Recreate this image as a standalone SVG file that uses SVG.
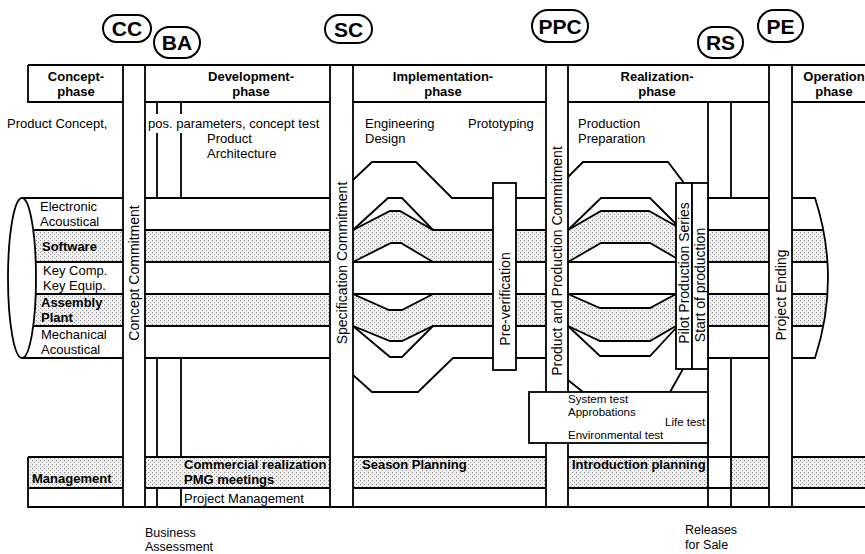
<svg xmlns="http://www.w3.org/2000/svg" width="865" height="554" viewBox="0 0 865 554">
<defs>
<pattern id="dots" width="4" height="4" patternUnits="userSpaceOnUse">
<rect width="4" height="4" fill="#efefef"/>
<rect x="0" y="0" width="1" height="1" fill="#8c8c8c"/>
<rect x="2" y="2" width="1" height="1" fill="#a8a8a8"/>
</pattern>
<style>
.ln{fill:none;stroke:#000;stroke-width:1.8}
.bx{fill:#fff;stroke:#000;stroke-width:1.8}
.sp{fill:url(#dots);stroke:none}
.t{font-family:"Liberation Sans",Arial,sans-serif;font-size:13px;fill:#000}
.s{font-size:13px}
.b{font-weight:bold;font-size:13px}
.h{font-weight:bold;font-size:13px;text-anchor:middle}
.ms{font-family:"Liberation Sans",Arial,sans-serif;font-weight:bold;font-size:21px;text-anchor:middle}
.lb{fill:#fff;stroke:#000;stroke-width:2}
.r{font-size:14px;text-anchor:middle;dominant-baseline:central}
.sm{font-size:11.5px}
.bn{font-size:12.5px}
</style>
</defs>
<rect width="865" height="554" fill="#fff"/>

<!-- stippled fills -->
<g id="fills">
<rect class="sp" x="22" y="230" width="101" height="32"/>
<rect class="sp" x="22" y="294" width="101" height="32"/>
<rect class="sp" x="145" y="230" width="185" height="32"/>
<rect class="sp" x="145" y="294" width="185" height="32"/>
<polygon class="sp" points="353,230 390,211 400,211 433,230 493,230 493,262 433,262 401,243 391,243 353,262"/>
<polygon class="sp" points="353,294 389,310 402,310 433,294 493,294 493,326 433,326 402,341 390,341 353,326"/>
<rect class="sp" x="516" y="230" width="30" height="32"/>
<rect class="sp" x="516" y="294" width="30" height="32"/>
<polygon class="sp" points="568,230 601,211 649,211 676,226 676,258 650,243 601,243 568,262"/>
<polygon class="sp" points="568,294 600,308 650,308 676,294 676,326 650,341 600,341 568,326"/>
<rect class="sp" x="708" y="230" width="61" height="32"/>
<rect class="sp" x="708" y="294" width="61" height="32"/>
<polygon class="sp" points="792,230 823.3,230 825.9,246 827.5,262 792,262"/>
<polygon class="sp" points="792,294 827.5,294 825.9,310 823.3,326 792,326"/>
<rect class="sp" x="28" y="457" width="95" height="31"/>
<rect class="sp" x="145" y="457" width="185" height="31"/>
<rect class="sp" x="353" y="457" width="193" height="31"/>
<rect class="sp" x="568" y="457" width="140" height="31"/>
<rect class="sp" x="731" y="457" width="38" height="31"/>
<rect class="sp" x="792" y="457" width="73" height="31"/>
</g>

<!-- band rows -->
<g id="rows">
<path class="ln" d="M22,198 H123 M22,230 H123 M22,262 H123 M22,294 H123 M22,326 H123 M22,358 H123"/>
<path class="ln" d="M145,198 H330 M145,230 H330 M145,262 H330 M145,294 H330 M145,326 H330 M145,358 H330"/>
<polyline class="ln" points="353,180 372,162 416,162 452,198 493,198"/>
<polyline class="ln" points="353,230 388,198 402,198 433,230"/>
<polyline class="ln" points="353,230 390,211 400,211 433,230 493,230"/>
<polyline class="ln" points="353,262 391,243 401,243 433,262"/>
<path class="ln" d="M353,262 H493 M353,294 H493"/>
<polyline class="ln" points="353,294 389,310 402,310 433,294"/>
<polyline class="ln" points="353,326 390,341 402,341 433,326 493,326"/>
<polyline class="ln" points="353,326 390,357 402,357 433,326"/>
<polyline class="ln" points="353,375 372,392 418,392 453,358 493,358"/>
<path class="ln" d="M516,198 H546 M516,230 H546 M516,262 H546 M516,294 H546 M516,326 H546 M516,358 H546"/>
<polyline class="ln" points="568,177 583,162 668,162 684,183"/>
<polyline class="ln" points="568,230 601,198 650,198 676,224"/>
<polyline class="ln" points="568,230 601,211 649,211 676,226"/>
<polyline class="ln" points="568,262 601,243 650,243 676,258"/>
<path class="ln" d="M568,262 H676 M568,294 H676"/>
<polyline class="ln" points="568,294 600,308 650,308 676,294"/>
<polyline class="ln" points="568,326 600,341 650,341 676,326"/>
<polyline class="ln" points="568,326 600,356 650,356 676,328"/>
<polyline class="ln" points="568,380 583,392 670,392 683,369"/>
<path class="ln" d="M708,198 H769 M708,230 H769 M708,262 H769 M708,294 H769 M708,326 H769 M708,358 H769"/>
<path class="ln" d="M792,198 H815 Q841,278 815,358 H792 M792,230 H823.3 M792,262 H827.5 M792,294 H827.5 M792,326 H823.3"/>
<ellipse cx="22" cy="278" rx="14" ry="80" fill="#fff" stroke="#000" stroke-width="1.8"/>
</g>

<!-- grid / connectors -->
<g id="connectors">
<path class="ln" d="M28,65 H865 M28,65 V102 H123 M145,102 H330 M353,102 H546 M568,102 H769 M792,102 H865"/>
<path class="ln" d="M123,65 V507 M145,65 V507 M330,65 V507 M353,65 V507 M546,65 V392 M568,65 V392 M546,443 V507 M568,443 V507 M769,65 V507 M792,65 V507"/>
<path class="ln" d="M157,102 V114 M157,133 V198 M181,102 V114 M181,133 V198 M157,358 V457 M181,358 V457 M157,488 V507 M181,488 V507"/>
<path class="ln" d="M708,102 V507 M731,102 V198 M731,358 V507"/>
<path class="ln" d="M28,457 V507 H865 M28,457 H123 M145,457 H330 M353,457 H546 M568,457 H769 M792,457 H865 M28,488 H123 M145,488 H330 M353,488 H546 M568,488 H769 M792,488 H865"/>
</g>

<!-- milestones -->
<g id="ms-cc"><rect class="lb" x="103" y="15" width="48" height="27" rx="13.5"/><text class="ms" x="127" y="36">CC</text></g>
<g id="ms-ba"><rect class="lb" x="154" y="27" width="46" height="31" rx="15.5"/><text class="ms" x="177" y="50">BA</text></g>
<g id="ms-sc"><rect class="lb" x="325" y="15" width="47" height="28" rx="14"/><text class="ms" x="348.5" y="36.5">SC</text></g>
<g id="ms-ppc"><rect class="lb" x="532" y="10" width="56" height="32" rx="16"/><text class="ms" x="560" y="33.5">PPC</text></g>
<g id="ms-rs"><rect class="lb" x="698" y="27" width="45" height="31" rx="15.5"/><text class="ms" x="720.5" y="50">RS</text></g>
<g id="ms-pe"><rect class="lb" x="758" y="10" width="45" height="32" rx="16"/><text class="ms" x="780.5" y="33.5">PE</text></g>

<!-- phases -->
<g id="phase-concept" class="t"><text class="h"><tspan x="76" y="81">Concept-</tspan><tspan x="76" y="96">phase</tspan></text></g>
<g id="phase-development" class="t"><text class="h"><tspan x="251" y="81">Development-</tspan><tspan x="251" y="96">phase</tspan></text></g>
<g id="phase-implementation" class="t"><text class="h"><tspan x="443" y="81">Implementation-</tspan><tspan x="443" y="96">phase</tspan></text></g>
<g id="phase-realization" class="t"><text class="h"><tspan x="657" y="81">Realization-</tspan><tspan x="657" y="96">phase</tspan></text></g>
<g id="phase-operation" class="t"><text class="h"><tspan x="834" y="81">Operation</tspan><tspan x="834" y="96">phase</tspan></text></g>

<!-- activity notes -->
<g id="notes" class="t">
<text x="7" y="128">Product Concept,</text>
<text x="148" y="128">pos. parameters, concept test</text>
<text><tspan x="207" y="143">Product</tspan><tspan x="207" y="158">Architecture</tspan></text>
<text><tspan x="365" y="128">Engineering</tspan><tspan x="365" y="143">Design</tspan></text>
<text x="468" y="128">Prototyping</text>
<text><tspan x="578" y="128">Production</tspan><tspan x="578" y="143">Preparation</tspan></text>
</g>

<!-- row labels -->
<g id="row-labels" class="t s">
<text><tspan x="40" y="211">Electronic</tspan><tspan x="40" y="226">Acoustical</tspan></text>
<text class="b" x="42" y="251">Software</text>
<text><tspan x="43" y="275">Key Comp.</tspan><tspan x="43" y="290">Key Equip.</tspan></text>
<text class="b"><tspan x="41" y="307">Assembly</tspan><tspan x="41" y="322">Plant</tspan></text>
<text><tspan x="41" y="339">Mechanical</tspan><tspan x="41" y="354">Acoustical</tspan></text>
</g>

<!-- gates -->
<g id="gate-cc" class="t"><text class="r" transform="translate(134,273) rotate(-90)">Concept Commitment</text></g>
<g id="gate-sc" class="t"><text class="r" transform="translate(341.5,263) rotate(-90)">Specification Commitment</text></g>
<g id="gate-ppc" class="t"><text class="r" transform="translate(557,261) rotate(-90)">Product and Production Commitment</text></g>
<g id="gate-pe" class="t"><text class="r" transform="translate(780.5,295) rotate(-90)">Project Ending</text></g>

<g id="box-preverification"><rect class="bx" x="493" y="183" width="23" height="187"/><text class="t r" transform="translate(504.5,299) rotate(-90)">Pre-verification</text></g>
<g id="box-pilot"><rect class="bx" x="676" y="183" width="16" height="186"/><text class="t r" transform="translate(684,273) rotate(-90)">Pilot Production Series</text></g>
<g id="box-start"><rect class="bx" x="692" y="183" width="16" height="186"/><text class="t r" transform="translate(700,285) rotate(-90)">Start of production</text></g>

<g id="box-systemtest" class="t sm">
<rect class="bx" x="529" y="392" width="179" height="51"/>
<text><tspan x="568" y="403">System test</tspan><tspan x="568" y="416">Approbations</tspan><tspan x="665" y="426">Life test</tspan><tspan x="568" y="439">Environmental test</tspan></text>
</g>

<!-- management band -->
<g id="management" class="t">
<text class="b" x="32" y="483">Management</text>
<text class="b"><tspan x="184" y="469">Commercial realization</tspan><tspan x="184" y="484">PMG meetings</tspan></text>
<text class="s" x="184" y="503">Project Management</text>
<text class="b" x="362" y="469">Season Planning</text>
<text class="b" x="572" y="469">Introduction planning</text>
</g>

<g id="bottom-notes" class="t bn">
<text><tspan x="145" y="536.5">Business</tspan><tspan x="145" y="551">Assessment</tspan></text>
<text><tspan x="685" y="534">Releases</tspan><tspan x="685" y="548.5">for Sale</tspan></text>
</g>
</svg>
